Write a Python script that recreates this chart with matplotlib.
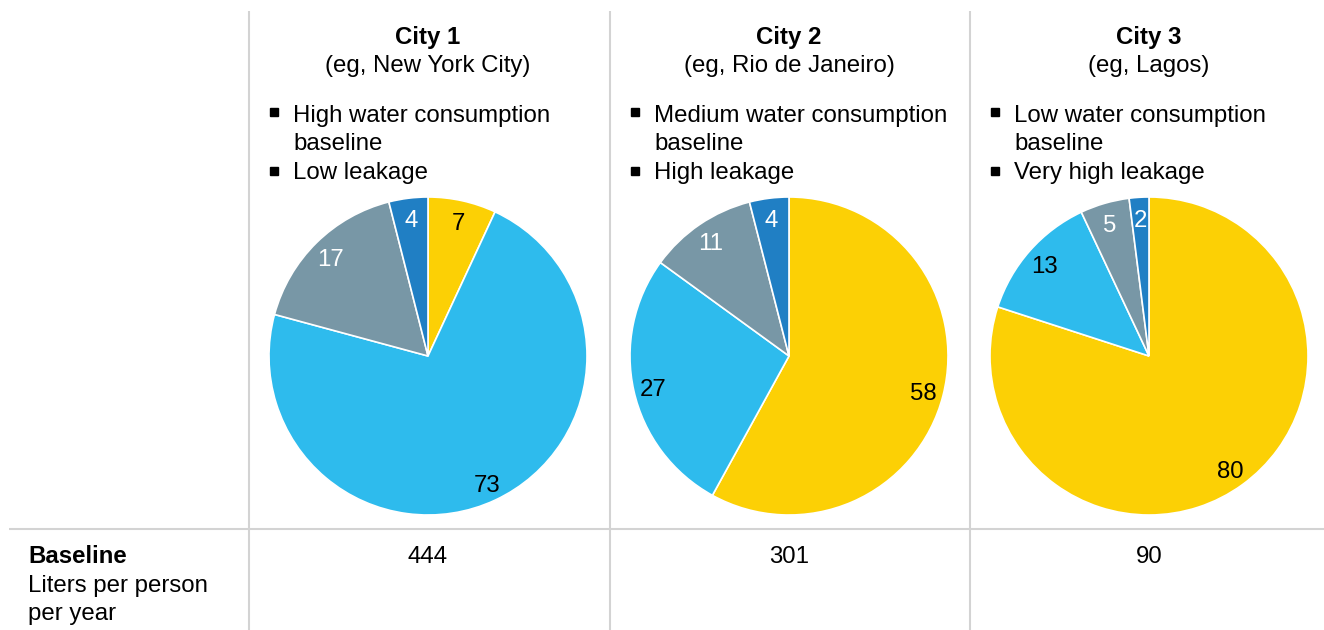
import matplotlib.pyplot as plt

plt.rcParams['font.family'] = ['Liberation Sans', 'DejaVu Sans']

# Water use split per city (share of baseline, %)
cities = ['City 1', 'City 2', 'City 3']
examples = ['(eg, New York City)', '(eg, Rio de Janeiro)', '(eg, Lagos)']
consumption = ['High', 'Medium', 'Low']
leakage = ['Low', 'High', 'Very high']
yellow_share = [7, 58, 80]
lightblue_share = [73, 27, 13]
gray_share = [17, 11, 5]
darkblue_share = [4, 4, 2]
baseline = [444, 301, 90]

colors = ['#FCD005', '#2EBBED', '#7897A6', '#207FC4']
label_colors = ['black', 'black', 'white', 'white']

W, H = 1324, 630
fig = plt.figure(figsize=(W / 100, H / 100), dpi=100)
ax = fig.add_axes([0, 0, 1, 1])

centers_x = [428, 789, 1149]
pie_y = H - 356
radius = 159
fs = 17.3
grid = '#D3D3D3'


def y(px):
    # pixel rows counted from the top
    return H - px


for i, cx in enumerate(centers_x):
    shares = [yellow_share[i], lightblue_share[i], gray_share[i], darkblue_share[i]]
    wedges, texts = ax.pie(shares, labels=[str(v) for v in shares], colors=colors,
                           startangle=90, counterclock=False, center=(cx, pie_y),
                           radius=radius, labeldistance=0.875,
                           wedgeprops=dict(edgecolor='white', linewidth=1.2),
                           textprops=dict(fontsize=fs))
    for t, c in zip(texts, label_colors):
        t.set_ha('center')
        t.set_va('center')
        t.set_color(c)
        # nudge so the digits' ink sits on the label point
        px, py = t.get_position()
        t.set_position((px, py - 3.5))

    # column header
    ax.text(cx, y(44), cities[i], ha='center', va='baseline', fontsize=fs, fontweight='bold')
    ax.text(cx, y(72), examples[i], ha='center', va='baseline', fontsize=fs)

    # bullets
    bx, tx = cx - 154.5, cx - 135
    ax.plot([bx, bx], [y(112), y(170.5)], ls='none', marker='s', ms=5.2, color='black')
    ax.text(tx, y(122), f'{consumption[i]} water consumption', ha='left', va='baseline', fontsize=fs)
    ax.text(tx, y(150), 'baseline', ha='left', va='baseline', fontsize=fs)
    ax.text(tx, y(179), f'{leakage[i]} leakage', ha='left', va='baseline', fontsize=fs)

    # baseline value row
    ax.text(cx, y(563), str(baseline[i]), ha='center', va='baseline', fontsize=fs)

ax.text(28, y(563), 'Baseline', ha='left', va='baseline', fontsize=fs, fontweight='bold')
ax.text(28, y(592), 'Liters per person', ha='left', va='baseline', fontsize=fs)
ax.text(28, y(620), 'per year', ha='left', va='baseline', fontsize=fs)

# table rules
for vx in [249, 610, 970]:
    ax.plot([vx, vx], [y(11), y(630)], color=grid, lw=1.5, solid_capstyle='butt')
ax.plot([9, W], [y(529), y(529)], color=grid, lw=1.5, solid_capstyle='butt')

ax.set_xlim(0, W)
ax.set_ylim(0, H)
ax.set_aspect('auto')
ax.axis('off')

fig.savefig('out.png', dpi=100, facecolor='white')
